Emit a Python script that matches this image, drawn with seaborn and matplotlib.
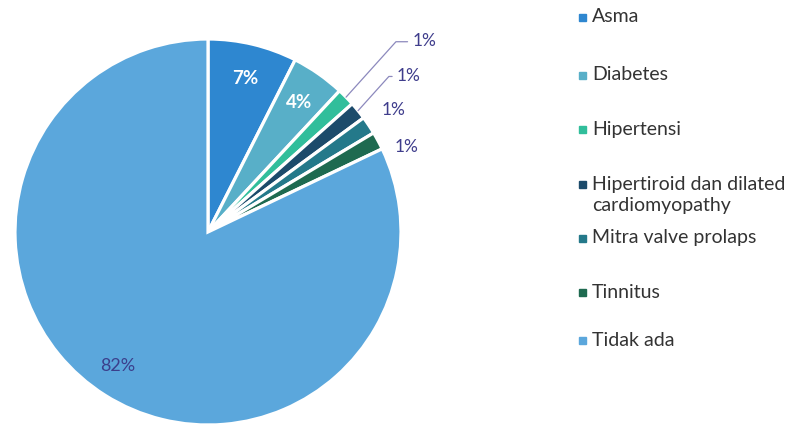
import seaborn as sns
import matplotlib.pyplot as plt
from matplotlib.patches import Rectangle
import numpy as np

# penyakit penyerta responden (jumlah)
labels = ['Asma', 'Diabetes', 'Hipertensi',
          'Hipertiroid dan dilated\ncardiomyopathy',
          'Mitra valve prolaps', 'Tinnitus', 'Tidak ada']
counts = [5, 3, 1, 1, 1, 1, 55]
colors = ['#2e87d0', '#58afc8', '#31be9b', '#1c4b6b',
          '#24798a', '#1e6a50', '#5ba7dc']

# posisi teks 1% di luar pie (label kecil)
outer_pos = [(1.12, 0.99), (1.04, 0.81), (0.96, 0.63), (1.03, 0.44)]
# posisi baris legenda (piksel dari atas, baris pertama tiap entri)
legend_rows = [17, 75, 129, 184, 238, 292, 340]

W, H = 806, 428


def main():
    sns.set_theme(style='white')
    plt.rcParams['font.family'] = ['Lato', 'DejaVu Sans']

    fig = plt.figure(figsize=(W / 100, H / 100), dpi=100)
    ax = fig.add_axes([15 / W, 3 / H, 386 / W, 386 / H])

    wedges, _ = ax.pie(counts, colors=colors, startangle=90,
                       counterclock=False, radius=1,
                       wedgeprops=dict(edgecolor='white', linewidth=2.3))
    ax.set_xlim(-1, 1)
    ax.set_ylim(-1, 1)
    ax.set_aspect('equal')
    ax.axis('off')

    total = sum(counts)
    pcts = [f'{round(c / total * 100)}%' for c in counts]

    small = 0
    for i, w in enumerate(wedges):
        mid = np.deg2rad((w.theta1 + w.theta2) / 2)
        if counts[i] == 1:
            tx, ty = outer_pos[small]
            if small < 2:
                ax.annotate(pcts[i], xy=(np.cos(mid), np.sin(mid)),
                            xytext=(tx, ty), ha='center', va='center',
                            fontsize=12.5, color='#3f3d8c',
                            arrowprops=dict(arrowstyle='-', color='#8c89bd',
                                            lw=0.9, relpos=(0, 0.45),
                                            shrinkA=1, shrinkB=0,
                                            connectionstyle='angle,angleA=0,angleB=48'))
            else:
                ax.text(tx, ty, pcts[i], ha='center', va='center',
                        fontsize=12.5, color='#3f3d8c')
            small += 1
        elif counts[i] > 50:
            ax.text(0.82 * np.cos(mid) - 0.03, 0.82 * np.sin(mid),
                    pcts[i], ha='center', va='center', fontsize=13,
                    color='#3b3f8c')
        else:
            ax.text(0.82 * np.cos(mid), 0.82 * np.sin(mid), pcts[i],
                    ha='center', va='center', fontsize=13.5,
                    fontweight='bold', color='white')

    # legenda manual supaya jarak baris mirip aslinya
    line_gap = 22
    for lab, col, y in zip(labels, colors, legend_rows):
        n = lab.count('\n')
        fig.patches.append(Rectangle((579 / W, 1 - (y + 3.5) / H),
                                     7 / W, 7 / H, color=col,
                                     transform=fig.transFigure, figure=fig))
        yc = y + n * line_gap / 2
        fig.text(592 / W, 1 - yc / H, lab, ha='left', va='center',
                 fontsize=14, color='#333333', linespacing=1.22)

    fig.savefig('out.png', dpi=100)


if __name__ == "__main__":
    main()
